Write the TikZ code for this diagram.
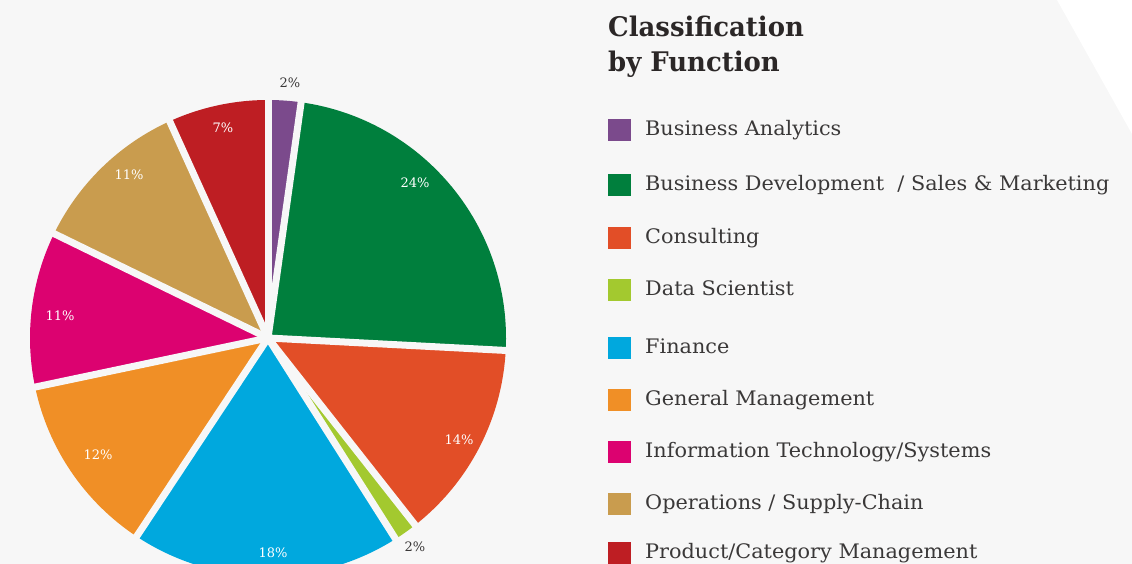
\documentclass[tikz,border=0pt]{standalone}
\usepackage{fontspec}
\setmainfont{DejaVu Serif}
\newfontfamily\titlefont[FakeStretch=0.96]{DejaVu Serif}
\newfontfamily\keyfont[FakeStretch=1.04]{DejaVu Serif}
\definecolor{bgray}{HTML}{F7F7F7}
\definecolor{txtgray}{HTML}{3A3838}
\definecolor{ttlgray}{HTML}{2B2727}
\definecolor{cpurple}{HTML}{7B4A8C}
\definecolor{cgreen}{HTML}{007F3D}
\definecolor{corange}{HTML}{E24E27}
\definecolor{clime}{HTML}{A3C92F}
\definecolor{cblue}{HTML}{00A8DE}
\definecolor{cgold}{HTML}{F08F26}
\definecolor{cmagenta}{HTML}{DC0270}
\definecolor{ctan}{HTML}{C99C4E}
\definecolor{cred}{HTML}{BE1E23}
\tikzset{
  gap/.style={draw=bgray,line width=7pt},
  pctin/.style={text=white,font=\fontsize{13}{13}\selectfont,inner sep=0},
  pctout/.style={text=txtgray,font=\fontsize{13}{13}\selectfont,inner sep=0},
  keybox/.style={minimum width=23pt,minimum height=22pt,inner sep=0},
  keytext/.style={anchor=base west,text=txtgray,font=\keyfont\fontsize{20}{20}\selectfont,inner sep=0},
  ttl/.style={anchor=base west,text=ttlgray,font=\titlefont\bfseries\fontsize{27}{30}\selectfont,inner sep=0}
}
\begin{document}
\begin{tikzpicture}[x=1pt,y=1pt]
\useasboundingbox (0,0) rectangle (1132,564);
\fill[bgray] (0,0) rectangle (1132,564);
\fill[white] (1057,564) -- (1132,564) -- (1132,430) -- cycle;
% pie
\coordinate (c) at (268,226);
\foreach \from/\to/\col in {90/82/cpurple,82/-3/cgreen,-3/-51.8/corange,-51.8/-57.6/clime,
  -57.6/-123.5/cblue,-123.5/-168.1/cgold,-168.1/-206/cmagenta,-206/-245.6/ctan,-245.6/-270/cred}
  \fill[\col] (c) -- ++(\from:238pt) arc[start angle=\from,end angle=\to,radius=238pt] -- cycle;
\foreach \a in {90,82,-3,-51.8,-57.6,-123.5,-168.1,-206,-245.6}
  \draw[gap] (c) -- ++(\a:245pt);
\node[pctout] (pba) at (290,481) {2\%};
\node[pctin] (pbd) at (415,381) {24\%};
\node[pctin] (pcon) at (459,124) {14\%};
\node[pctout] (pds) at (415,17) {2\%};
\node[pctin] (pfin) at (273,11) {18\%};
\node[pctin] (pgm) at (98,109) {12\%};
\node[pctin] (pit) at (60,248) {11\%};
\node[pctin] (pops) at (129,389) {11\%};
\node[pctin] (ppcm) at (223,436) {7\%};
% title
\node[ttl] (title1) at (608,527) {Classification};
\node[ttl] (title2) at (608,492) {by Function};
% legend
\foreach \y/\col/\name/\lbl in {433.5/cpurple/kba/{Business Analytics},
  379/cgreen/kbd/{Business Development\ \ / Sales \& Marketing},
  326/corange/kcon/{Consulting},
  274/clime/kds/{Data Scientist},
  216/cblue/kfin/{Finance},
  164/cgold/kgm/{General Management},
  112/cmagenta/kit/{Information Technology/Systems},
  60/ctan/kops/{Operations / Supply-Chain},
  11/cred/kpcm/{Product/Category Management}}
{
  \node[keybox,fill=\col] (\name) at (619.5,\y) {};
  \node[keytext] (\name t) at (645,\y-5.5) {\lbl};
}
\end{tikzpicture}
\end{document}
